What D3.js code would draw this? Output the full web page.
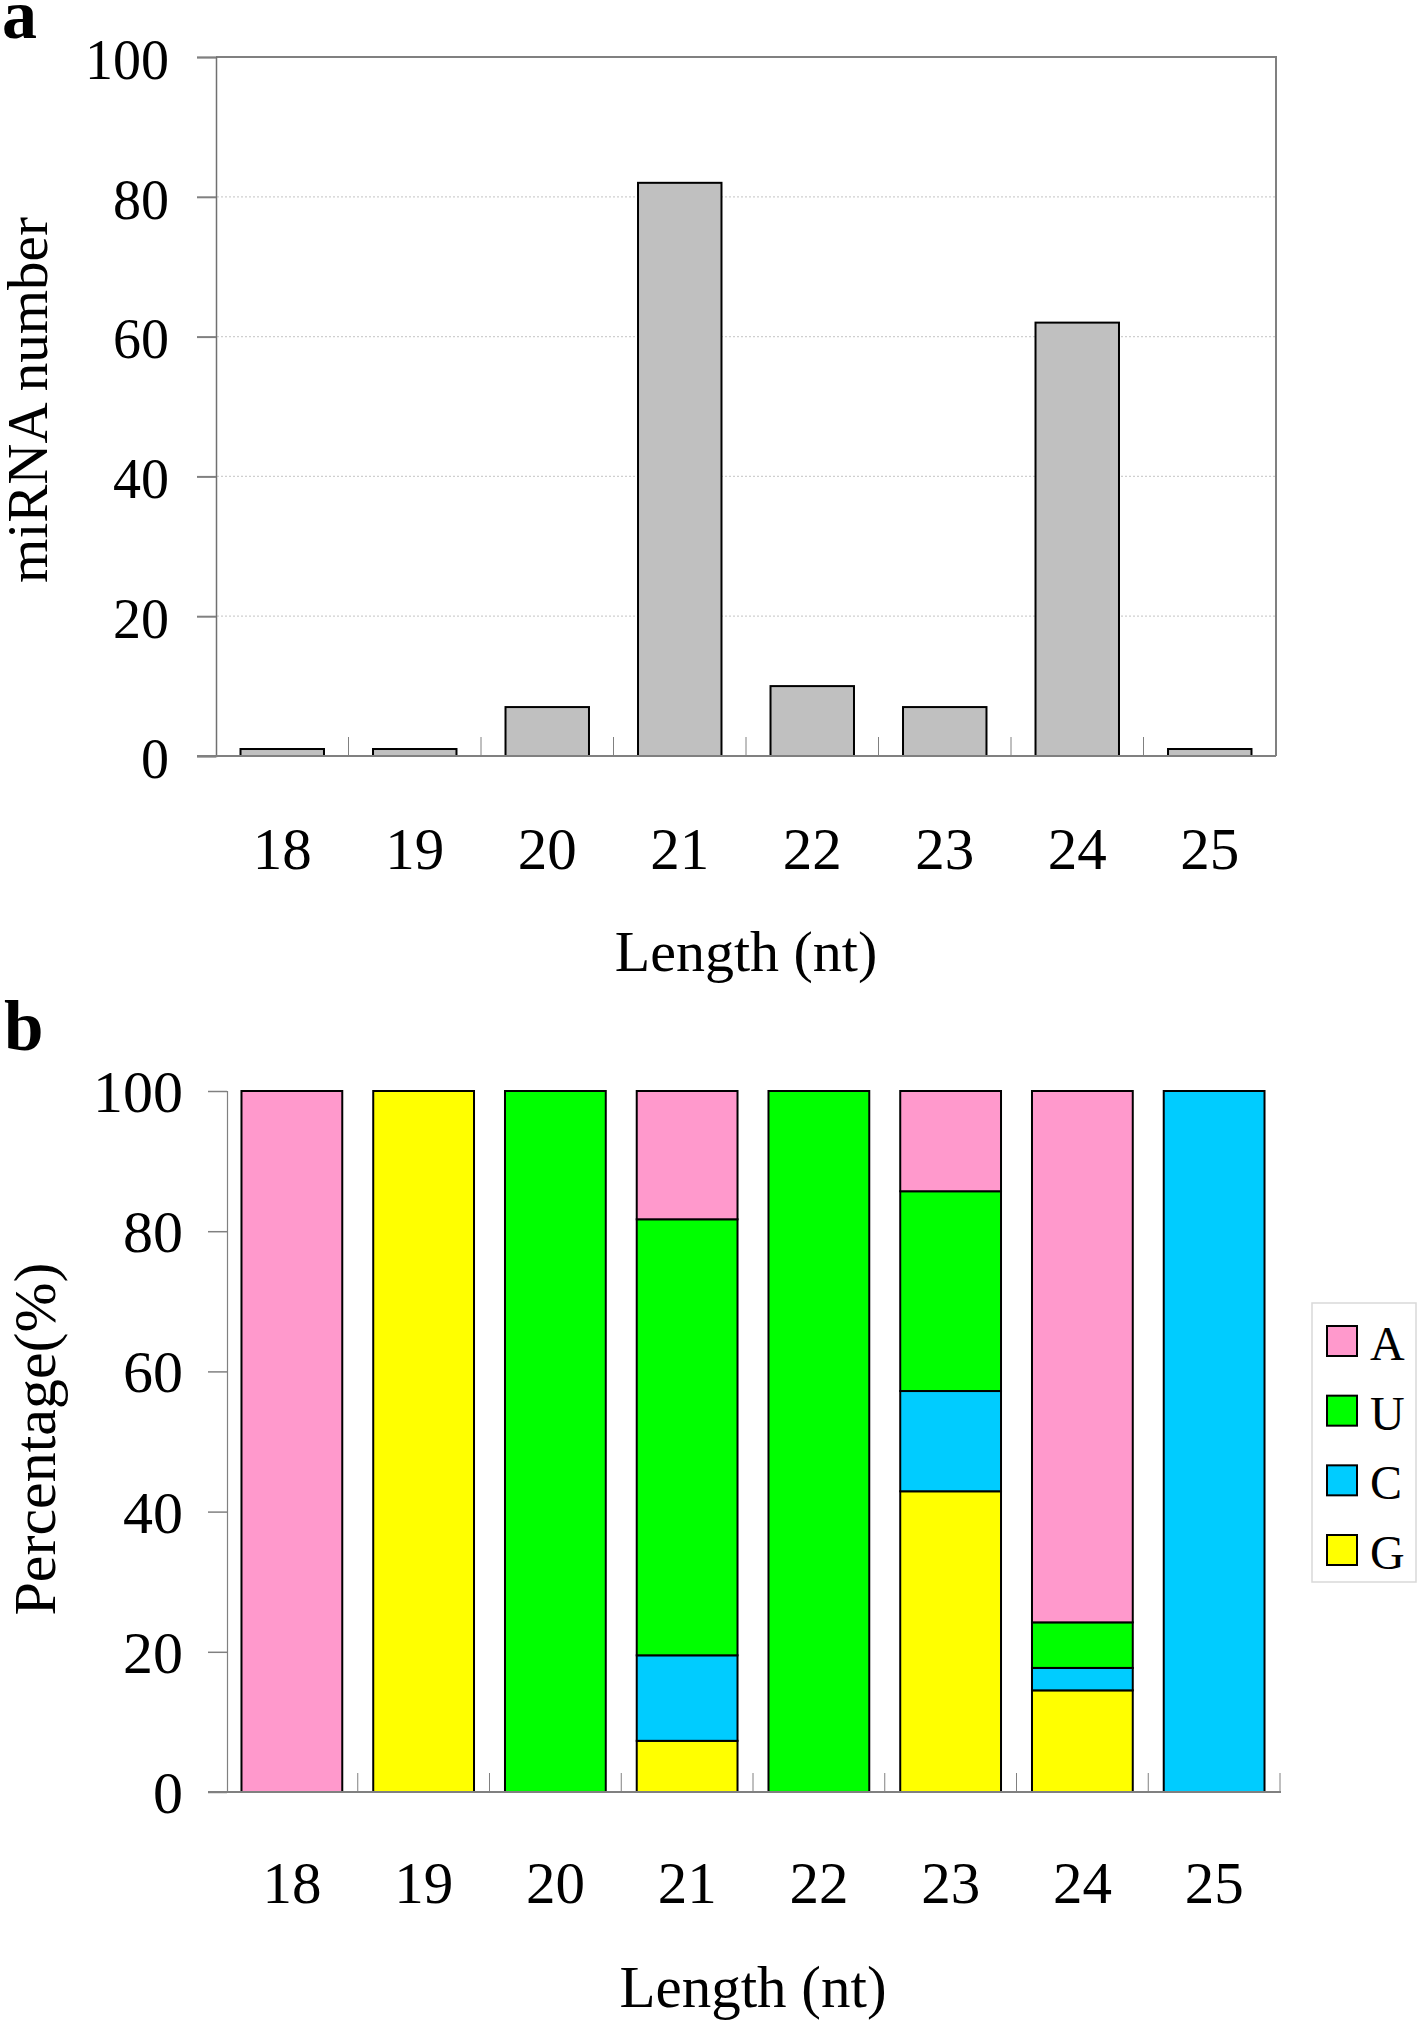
<!DOCTYPE html>
<html>
<head>
<meta charset="utf-8">
<script src="https://cdn.jsdelivr.net/npm/d3@7"></script>
<style>
  html, body { margin: 0; padding: 0; background: #fff; }
  text { font-family: "Liberation Serif", "Times New Roman", serif; fill: #000; }
</style>
</head>
<body>
<div id="chart"></div>
<script>
// ---- data ----
let lengths = ['18', '19', '20', '21', '22', '23', '24', '25'];
let mirnaCounts = [1, 1, 7, 82, 10, 7, 62, 1];

// first-base composition (%) per length
let pctA = [100, 0, 0, 18.3, 0, 14.3, 75.8, 0];
let pctU = [0, 0, 100, 62.2, 100, 28.5, 6.5, 0];
let pctC = [0, 0, 0, 12.2, 0, 14.3, 3.2, 100];
let pctG = [0, 100, 0, 7.3, 0, 42.9, 14.5, 0];

let bases = ['A', 'U', 'C', 'G'];          // legend order
let stackOrder = ['G', 'C', 'U', 'A'];     // bottom to top
let baseColor = {A: '#FF99CC', U: '#00FF00', C: '#00CCFF', G: '#FFFF00'};

let yTicks = [0, 20, 40, 60, 80, 100];

let W = 1418, H = 2024;
let svg = d3.select('#chart').append('svg')
		.attr('width', W)
		.attr('height', H);

// ===================================== PANEL A ======================================= //
let aX = d3.scaleBand().domain(lengths).range([216, 1276]).paddingInner(0.37).paddingOuter(0.185);
let aY = d3.scaleLinear().domain([0, 100]).range([756, 57]);
let aGrid = d3.scaleBand().domain(lengths).range([216, 1276]);

let a = svg.append('g');

a.append('text')
		.attr('x', 2).attr('y', 38)
		.style('font-size', '70px').style('font-weight', 'bold')
		.text('a');

// dotted gridlines
a.selectAll('.grid').data(yTicks.filter(t => t > 0 && t < 100)).enter()
		.append('line')
		.attr('x1', 217).attr('x2', 1275)
		.attr('y1', d => aY(d)).attr('y2', d => aY(d))
		.attr('stroke', '#cfcfcf').attr('stroke-width', 1.2)
		.attr('stroke-dasharray', '2,2');

// frame top / right
a.append('path')
		.attr('d', `M216,${aY(100)}H1276V${aY(0)}`)
		.attr('fill', 'none').attr('stroke', '#808080').attr('stroke-width', 2);

// y axis
let aAxis = a.append('g').attr('transform', 'translate(216,0)')
		.call(d3.axisLeft(aY).tickValues(yTicks).tickSize(19).tickPadding(28));
aAxis.select('.domain').attr('stroke', '#707070').attr('stroke-width', 1.5);
aAxis.selectAll('.tick line').attr('stroke', '#808080').attr('stroke-width', 2);
aAxis.selectAll('.tick text')
		.style('font-family', '"Liberation Serif", serif').style('font-size', '56px')
		.attr('fill', '#000').attr('dy', '0.38em');

// bars
a.selectAll('.bar').data(lengths).enter()
		.append('rect')
		.attr('x', d => aX(d))
		.attr('width', aX.bandwidth())
		.attr('y', (d, i) => aY(mirnaCounts[i]))
		.attr('height', (d, i) => aY(0) - aY(mirnaCounts[i]))
		.attr('fill', '#C0C0C0')
		.attr('stroke', '#000').attr('stroke-width', 2);

// baseline + inner category ticks
a.append('line')
		.attr('x1', 197).attr('x2', 1276)
		.attr('y1', aY(0)).attr('y2', aY(0))
		.attr('stroke', '#808080').attr('stroke-width', 2);
a.selectAll('.xtick').data(lengths.slice(1)).enter()
		.append('line')
		.attr('x1', d => aGrid(d)).attr('x2', d => aGrid(d))
		.attr('y1', aY(0)).attr('y2', aY(0) - 19)
		.attr('stroke', '#808080').attr('stroke-width', 1);

a.selectAll('.xlab').data(lengths).enter()
		.append('text')
		.attr('x', d => aGrid(d) + aGrid.bandwidth() / 2)
		.attr('y', 869)
		.attr('text-anchor', 'middle')
		.style('font-size', '59px')
		.text(d => d);

a.append('text')
		.attr('x', 746).attr('y', 971)
		.attr('text-anchor', 'middle')
		.style('font-size', '58px')
		.text('Length (nt)');

a.append('text')
		.attr('transform', 'translate(47,400) rotate(-90)')
		.attr('text-anchor', 'middle')
		.style('font-size', '57px')
		.text('miRNA number');

// ===================================== PANEL B ======================================= //
let bX = d3.scaleBand().domain(lengths).range([226, 1280]).paddingInner(0.235).paddingOuter(0.1175);
let bY = d3.scaleLinear().domain([0, 100]).range([1792, 1091]);
let bGrid = d3.scaleBand().domain(lengths).range([226, 1280]);

let b = svg.append('g');

b.append('text')
		.attr('x', 4).attr('y', 1050)
		.style('font-size', '71px').style('font-weight', 'bold')
		.text('b');

let bAxis = b.append('g').attr('transform', 'translate(227,0)')
		.call(d3.axisLeft(bY).tickValues(yTicks).tickSize(19).tickPadding(25));
bAxis.select('.domain').attr('stroke', '#808080').attr('stroke-width', 1.2);
bAxis.selectAll('.tick line').attr('stroke', '#808080').attr('stroke-width', 1.5);
bAxis.selectAll('.tick text')
		.style('font-family', '"Liberation Serif", serif').style('font-size', '60px')
		.attr('fill', '#000').attr('dy', '0.34em');

let table = lengths.map((len, i) => ({len: len, A: pctA[i], U: pctU[i], C: pctC[i], G: pctG[i]}));
let series = d3.stack().keys(stackOrder)(table);

b.selectAll('.layer').data(series).enter()
		.append('g')
		.attr('fill', d => baseColor[d.key])
		.selectAll('rect')
		.data(d => d.filter(s => s[1] - s[0] > 0))
		.enter()
		.append('rect')
		.attr('x', d => bX(d.data.len))
		.attr('width', bX.bandwidth())
		.attr('y', d => bY(d[1]))
		.attr('height', d => bY(d[0]) - bY(d[1]))
		.attr('stroke', '#000').attr('stroke-width', 2);

b.append('line')
		.attr('x1', 208).attr('x2', 1281)
		.attr('y1', bY(0)).attr('y2', bY(0))
		.attr('stroke', '#808080').attr('stroke-width', 2);
b.selectAll('.xtick').data(lengths).enter()
		.append('line')
		.attr('x1', d => bGrid(d) + bGrid.step()).attr('x2', d => bGrid(d) + bGrid.step())
		.attr('y1', bY(0)).attr('y2', bY(0) - 19)
		.attr('stroke', '#808080').attr('stroke-width', 1);

b.selectAll('.xlab').data(lengths).enter()
		.append('text')
		.attr('x', d => bGrid(d) + bGrid.bandwidth() / 2)
		.attr('y', 1903)
		.attr('text-anchor', 'middle')
		.style('font-size', '59px')
		.text(d => d);

b.append('text')
		.attr('x', 753).attr('y', 2007)
		.attr('text-anchor', 'middle')
		.style('font-size', '59px')
		.text('Length (nt)');

b.append('text')
		.attr('transform', 'translate(55,1439) rotate(-90)')
		.attr('text-anchor', 'middle')
		.style('font-size', '60px')
		.text('Percentage(%)');

// legend
let legend = b.append('g');
legend.append('rect')
		.attr('x', 1312).attr('y', 1303)
		.attr('width', 104).attr('height', 279)
		.attr('fill', '#fff').attr('stroke', '#d9d9d9').attr('stroke-width', 1.5);
let rowY = d3.scalePoint().domain(bases).range([1326, 1535]);
let item = legend.selectAll('.item').data(bases).enter()
		.append('g')
		.attr('transform', d => `translate(1327,${rowY(d)})`);
item.append('rect')
		.attr('width', 30).attr('height', 30)
		.attr('fill', d => baseColor[d])
		.attr('stroke', '#000').attr('stroke-width', 2);
item.append('text')
		.attr('x', 43).attr('y', 34)
		.style('font-size', '48px')
		.text(d => d);
</script>
</body>
</html>
